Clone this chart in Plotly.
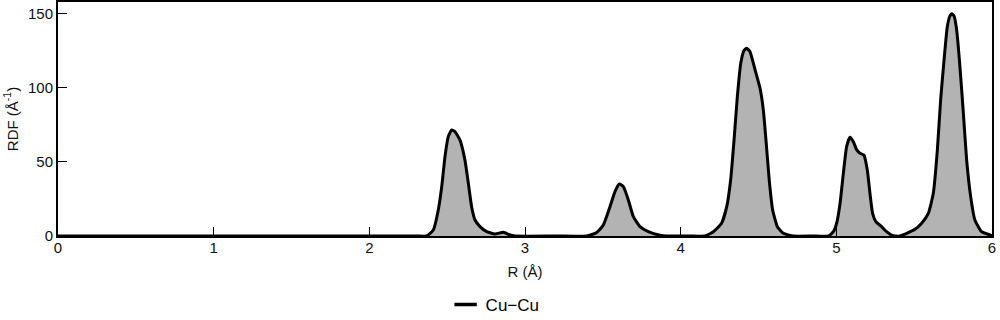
import plotly.graph_objects as go

r_values = [0.0, 1.0, 2.0, 2.3, 2.368, 2.411, 2.443, 2.465, 2.486, 2.507, 2.529, 2.550, 2.582, 2.614,
            2.636, 2.657, 2.679, 2.711, 2.754, 2.807, 2.861, 2.904, 2.936, 3.2,
            3.396, 3.461, 3.503, 3.546, 3.578, 3.606, 3.632, 3.664, 3.696, 3.739, 3.792, 3.867, 3.910, 4.05,
            4.156, 4.210, 4.263, 4.296, 4.321, 4.343, 4.364, 4.386, 4.407, 4.424, 4.445, 4.478, 4.510,
            4.531, 4.548, 4.569, 4.591, 4.621, 4.659, 4.724, 4.85,
            4.949, 4.981, 5.002, 5.024, 5.045, 5.066, 5.088, 5.109, 5.131, 5.152, 5.177, 5.199, 5.216,
            5.233, 5.254, 5.291, 5.323, 5.355, 5.38, 5.409,
            5.452, 5.505, 5.548, 5.591, 5.623, 5.649, 5.670, 5.692, 5.713, 5.730, 5.741, 5.756, 5.773,
            5.794, 5.816, 5.837, 5.863, 5.890, 5.933, 5.987, 6.0]
rdf_values = [0, 0, 0, 0, 0, 4.1, 17.6, 33.3, 53.6, 67.1, 71.6, 70.5, 64.9, 51.4,
              35.6, 19.8, 10.8, 6.3, 2.9, 1.4, 2.5, 0.7, 0, 0,
              0, 2.3, 7.4, 19.8, 30.0, 35.1, 33.3, 24.3, 13.1, 6.3, 2.9, 0.5, 0, 0,
              0, 2.9, 8.6, 19.8, 37.8, 64.9, 94.1, 116.7, 125.2, 126.8, 124.5, 112.2, 99.8,
              85.1, 64.9, 37.8, 17.6, 6.3, 1.8, 0, 0,
              0, 2.9, 8.6, 22.1, 42.3, 60.4, 66.7, 63.7, 58.1, 55.9, 54.7, 44.6, 28.8,
              15.3, 9.7, 6.3, 2.9, 0.6, 0, 0,
              1.8, 4.5, 8.6, 15.3, 28.8, 58.1, 91.9, 118.9, 141.4, 148.6, 150.0, 148.6, 139.2,
              114.4, 82.9, 51.4, 26.6, 10.8, 2.9, 0.7, 0]

x_ticks = [0, 1, 2, 3, 4, 5, 6]
y_ticks = [0, 50, 100, 150]
series_name = "Cu\u2212Cu"

fig = go.Figure()
fig.add_trace(go.Scatter(
    x=r_values, y=rdf_values, mode="lines", name=series_name, showlegend=False,
    line=dict(color="black", width=3, shape="spline", smoothing=0.45),
    fill="tozeroy", fillcolor="#b3b3b3",
))
# legend-only entry (short line symbol, no fill)
fig.add_trace(go.Scatter(
    x=[None], y=[None], mode="markers", name=series_name, showlegend=True,
    marker=dict(symbol="line-ew", size=16, color="black", line=dict(color="black", width=3.5)),
))

font_family = "Arial, Liberation Sans, sans-serif"
fig.update_layout(
    width=1000, height=320,
    margin=dict(l=58, r=8, t=2, b=84, autoexpand=False),
    plot_bgcolor="white", paper_bgcolor="white",
    font=dict(family=font_family, size=15, color="#111"),
    showlegend=True,
    legend=dict(orientation="h", x=0.468, xanchor="center", y=-0.295, yanchor="middle",
                itemwidth=30, font=dict(size=17, color="black")),
    xaxis=dict(range=[0, 6], tickvals=x_ticks, showgrid=False, zeroline=False, automargin=False,
               showline=True, mirror=True, linecolor="black", linewidth=2,
               ticks="inside", ticklen=9, tickcolor="black", ticklabelstandoff=-3,
               title=dict(text="R (Å)", standoff=11, font=dict(size=15))),
    yaxis=dict(range=[0, 158], tickvals=y_ticks, showgrid=False, zeroline=False, automargin=False,
               showline=True, mirror=True, linecolor="black", linewidth=2,
               ticks="inside", ticklen=9, tickcolor="black",
               title=dict(text="RDF (Å<sup>-1</sup>)", standoff=6, font=dict(size=15))),
)

fig.write_html("out.html", config={"displayModeBar": False},
               post_script="document.body.style.margin='0';")
